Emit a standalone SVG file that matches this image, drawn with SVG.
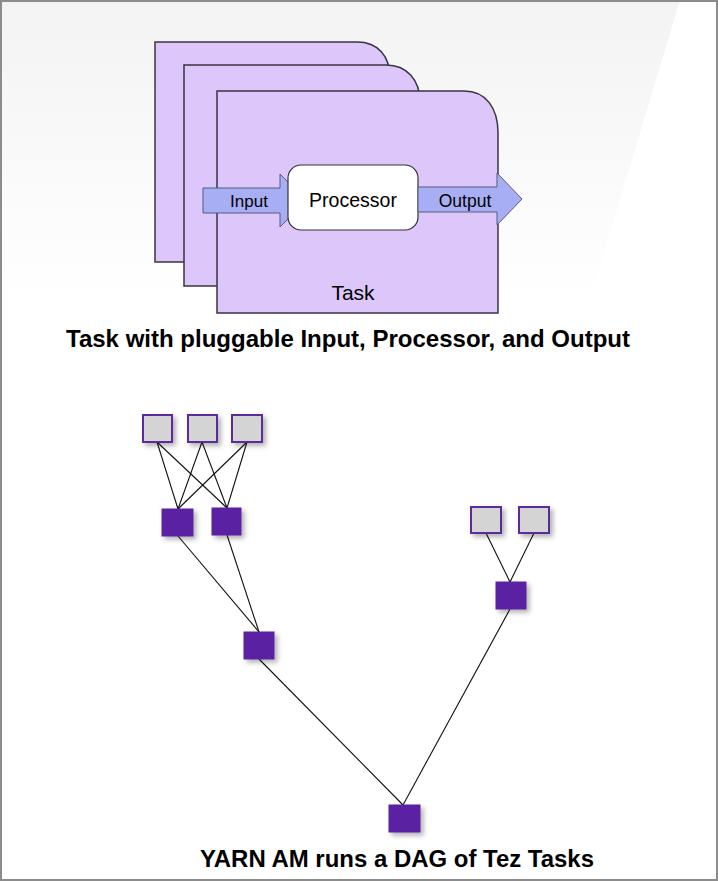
<svg xmlns="http://www.w3.org/2000/svg" width="718" height="881" viewBox="0 0 718 881">
<defs>
<linearGradient id="bg" x1="0" y1="0" x2="0" y2="1">
<stop offset="0" stop-color="#f3f3f3"/>
<stop offset="1" stop-color="#ffffff"/>
</linearGradient>
<filter id="sh" x="-40%" y="-40%" width="190%" height="190%">
<feDropShadow dx="3" dy="3" stdDeviation="2.5" flood-color="#000" flood-opacity="0.3"/>
</filter>
<style>
.card{fill:#dcc6fa;stroke:#3a3340;stroke-width:1.5}
.arrow{fill:#a8aef3;stroke:#555a80;stroke-width:1}
.lbl{font-family:"Liberation Sans",Arial,sans-serif;fill:#000}
.cap{font-family:"Liberation Sans",Arial,sans-serif;font-weight:bold;font-size:24px;fill:#000}
.src{fill:#d4d4d4;stroke:#5a2a9e;stroke-width:2;filter:url(#sh)}
.task{fill:#5a22a2;stroke:#5a22a2;stroke-width:1;filter:url(#sh)}
.edge{stroke:#111;stroke-width:1.1;fill:none}
</style>
</defs>
<rect x="0" y="0" width="718" height="881" fill="#ffffff"/>
<polygon points="0,0 680,0 590,300 0,300" fill="url(#bg)"/>
<rect x="1" y="1" width="716" height="879" fill="none" stroke="#8c8c8c" stroke-width="2"/>

<g id="task-card-1">
<path class="card" d="M155,42 H357 C378,42 390,56 390,78 V262 H155 Z"/>
</g>
<g id="task-card-2">
<path class="card" d="M184,65 H386 C407,65 420,80 420,102 V286 H184 Z"/>
</g>
<g id="task-card-3">
<path class="card" d="M217,91 H464 C486,91 498,108 498,133 V313 H217 Z"/>
<text class="lbl" x="353" y="300" font-size="21" text-anchor="middle">Task</text>
</g>
<g id="input">
<path class="arrow" d="M203,188 H280 V174 L306,200.5 L280,227 V213 H203 Z"/>
<text class="lbl" x="249" y="207" font-size="17" text-anchor="middle">Input</text>
</g>
<g id="processor">
<rect x="288" y="165" width="130" height="65" rx="13" ry="13" fill="#ffffff" stroke="#333" stroke-width="1.2"/>
<text class="lbl" x="353" y="207" font-size="19.5" text-anchor="middle">Processor</text>
</g>
<g id="output">
<path class="arrow" d="M418,187 H497 V173 L522,199 L497,225 V212 H418 Z"/>
<text class="lbl" x="465" y="207" font-size="17.5" text-anchor="middle">Output</text>
</g>
<text class="cap" x="66" y="347" textLength="564" lengthAdjust="spacingAndGlyphs">Task with pluggable Input, Processor, and Output</text>

<g id="connectors">
<line class="edge" x1="157" y1="442" x2="178" y2="509"/>
<line class="edge" x1="157" y1="442" x2="227" y2="508"/>
<line class="edge" x1="202" y1="442" x2="178" y2="509"/>
<line class="edge" x1="202" y1="442" x2="227" y2="508"/>
<line class="edge" x1="247" y1="442" x2="178" y2="509"/>
<line class="edge" x1="247" y1="442" x2="227" y2="508"/>
<line class="edge" x1="178" y1="536" x2="259" y2="632"/>
<line class="edge" x1="227" y1="535" x2="259" y2="632"/>
<line class="edge" x1="486" y1="533" x2="510" y2="582"/>
<line class="edge" x1="534" y1="533" x2="510" y2="582"/>
<line class="edge" x1="259" y1="659" x2="403" y2="805"/>
<line class="edge" x1="510" y1="609" x2="403" y2="805"/>
</g>

<g id="src-1"><rect class="src" x="143" y="415" width="29" height="27"/></g>
<g id="src-2"><rect class="src" x="188" y="415" width="29" height="27"/></g>
<g id="src-3"><rect class="src" x="232" y="415" width="30" height="27"/></g>
<g id="src-4"><rect class="src" x="471" y="507" width="30" height="26"/></g>
<g id="src-5"><rect class="src" x="519" y="507" width="30" height="26"/></g>
<g id="task-a"><rect class="task" x="162" y="509" width="31" height="27"/></g>
<g id="task-b"><rect class="task" x="212" y="508" width="29" height="27"/></g>
<g id="task-c"><rect class="task" x="244" y="632" width="30" height="27"/></g>
<g id="task-f"><rect class="task" x="496" y="582" width="30" height="27"/></g>
<g id="task-g"><rect class="task" x="389" y="805" width="31" height="27"/></g>

<text class="cap" x="200" y="867" textLength="394" lengthAdjust="spacingAndGlyphs">YARN AM runs a DAG of Tez Tasks</text>
</svg>
